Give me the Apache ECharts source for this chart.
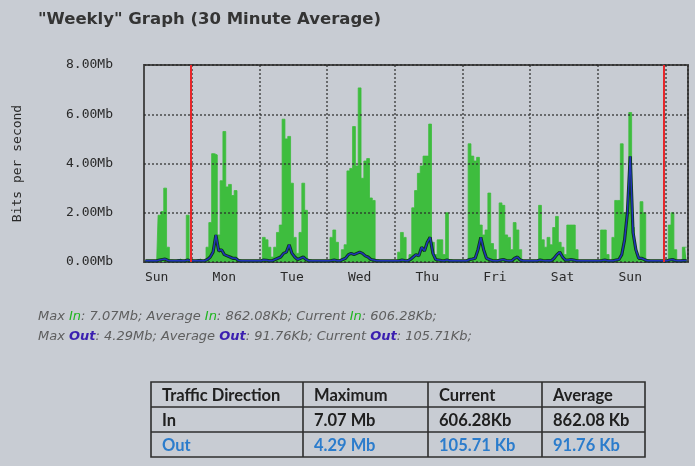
<!DOCTYPE html>
<html>
<head>
<meta charset="utf-8">
<script src="https://cdn.jsdelivr.net/npm/echarts@6/dist/echarts.min.js"></script>
<style>
html,body{margin:0;padding:0;background:#c8ccd3;}
#chart{width:695px;height:466px;}
</style>
</head>
<body>
<div id="chart"></div>
<script>
// ---- data (hourly slots, Mbit/s) ----
const dayLabels = ['Sun','Mon','Tue','Wed','Thu','Fri','Sat','Sun'];
const yTicks = [0, 2, 4, 6, 8];

// In traffic (green), slots 0..192, oldest on the left
const inTraffic = [
  // Sun (partial, 0-16)
  0.05,0.05,0.04,0.05,0.06,1.9,2.05,3.0,0.6,0.08,0.05,0.05,0.12,0.05,0.06,1.9,0.1,
  // Mon (17-40)
  0.05,0.06,0.12,0.05,0.08,0.6,1.6,4.4,4.35,1.1,3.3,5.3,3.05,3.15,2.7,2.9,0.1,0.05,0.06,0.05,0.04,0.05,0.05,0.06,
  // Tue (41-64)
  0.05,1.0,0.9,0.6,0.2,0.6,1.2,1.5,5.8,5.0,5.1,3.2,1.0,0.35,1.2,3.2,2.1,0.1,0.05,0.05,0.06,0.05,0.04,0.05,
  // Wed (65-88)
  0.05,1.0,1.3,0.8,0.06,0.5,0.7,3.7,3.8,5.5,3.9,7.07,3.4,4.1,4.2,2.6,2.5,0.1,0.05,0.05,0.04,0.05,0.05,0.06,
  // Thu (89-112)
  0.05,0.4,1.2,1.0,0.1,0.3,2.2,2.9,3.6,3.9,4.3,4.3,5.6,0.8,0.3,0.9,0.9,0.3,2.0,0.1,0.05,0.05,0.04,0.05,
  // Fri (113-136)
  0.05,0.06,4.8,4.3,4.1,4.25,1.5,1.1,1.3,2.8,0.75,0.5,0.1,2.4,2.3,1.1,1.0,0.5,1.6,1.3,0.5,0.05,0.05,0.06,
  // Sat (137-160)
  0.05,0.05,0.1,2.3,0.9,0.6,1.0,0.7,1.4,1.85,0.8,0.6,0.3,1.5,1.5,1.5,0.5,0.05,0.05,0.04,0.05,0.06,0.05,0.05,
  // Sun (161-184)
  0.05,1.3,1.3,0.3,0.05,1.0,2.5,2.5,4.8,2.0,2.0,6.07,1.4,0.4,0.1,2.45,2.0,0.1,0.05,0.05,0.04,0.05,0.05,0.06,
  // Mon (partial, 185-192)
  0.05,1.5,2.0,0.5,0.05,0.1,0.6,0.6
];

// Out traffic (blue)
const outTraffic = [
  0.05,0.05,0.05,0.05,0.05,0.08,0.1,0.12,0.06,0.05,0.05,0.05,0.06,0.05,0.05,0.08,0.05,
  0.05,0.05,0.06,0.05,0.05,0.1,0.2,0.4,1.1,0.45,0.5,0.3,0.25,0.2,0.15,0.15,0.06,0.05,0.05,0.05,0.05,0.05,0.05,0.05,
  0.05,0.08,0.07,0.05,0.05,0.1,0.15,0.2,0.35,0.4,0.7,0.35,0.2,0.1,0.15,0.2,0.1,0.05,0.05,0.05,0.05,0.05,0.05,0.05,
  0.05,0.06,0.08,0.05,0.05,0.1,0.15,0.3,0.35,0.3,0.35,0.4,0.35,0.25,0.2,0.1,0.08,0.05,0.05,0.05,0.05,0.05,0.05,0.05,
  0.05,0.05,0.08,0.06,0.05,0.1,0.2,0.3,0.25,0.6,0.45,0.8,1.0,0.35,0.1,0.08,0.06,0.05,0.08,0.05,0.05,0.05,0.05,0.05,
  0.05,0.05,0.1,0.12,0.15,0.5,1.0,0.5,0.15,0.1,0.06,0.05,0.05,0.08,0.1,0.06,0.05,0.05,0.15,0.2,0.08,0.05,0.05,0.05,
  0.05,0.05,0.05,0.08,0.06,0.05,0.06,0.05,0.15,0.3,0.4,0.2,0.08,0.08,0.1,0.08,0.05,0.05,0.05,0.05,0.05,0.05,0.05,0.05,
  0.05,0.06,0.08,0.05,0.05,0.05,0.08,0.1,0.3,0.9,2.0,4.29,1.2,0.5,0.15,0.15,0.1,0.05,0.05,0.05,0.05,0.05,0.05,0.05,
  0.05,0.08,0.1,0.06,0.05,0.05,0.06,0.06
];

// week-start markers (slot indexes)
const weekStartSlots = [16, 184];

// summary figures
const inStats = ['7.07Mb', '862.08Kb', '606.28Kb'];   // max, average, current
const outStats = ['4.29Mb', '91.76Kb', '105.71Kb'];

// table
const tableHeader = ['Traffic Direction', 'Maximum', 'Current', 'Average'];
const tableIn = ['In', '7.07 Mb', '606.28Kb', '862.08 Kb'];
const tableOut = ['Out', '4.29 Mb', '105.71 Kb', '91.76 Kb'];

// ---- build chart ----
const slots = inTraffic.map((_, i) => String(i));

const colX = [151, 303, 428, 542, 645];
const rowY = [382, 407, 432, 457];
const graphics = [];

graphics.push({
  type: 'text', left: 38, top: 310,
  style: {
    text: 'Max {g|In}: ' + inStats[0] + '; Average {g|In}: ' + inStats[1] + '; Current {g|In}: ' + inStats[2] + ';',
    fontFamily: 'DejaVu Sans', fontStyle: 'italic', fontSize: 13, fill: '#5e5e5e',
    rich: { g: { fill: '#1fb51f', fontFamily: 'DejaVu Sans', fontStyle: 'italic', fontSize: 13 } }
  }
});
graphics.push({
  type: 'text', left: 38, top: 330,
  style: {
    text: 'Max {b|Out}: ' + outStats[0] + '; Average {b|Out}: ' + outStats[1] + '; Current {b|Out}: ' + outStats[2] + ';',
    fontFamily: 'DejaVu Sans', fontStyle: 'italic', fontSize: 13, fill: '#5e5e5e',
    rich: { b: { fill: '#3a1fb0', fontFamily: 'DejaVu Sans', fontStyle: 'italic', fontWeight: 'bold', fontSize: 13 } }
  }
});

const border = { stroke: '#2e2e2e', lineWidth: 1.6 };
graphics.push({ type: 'rect', shape: { x: colX[0], y: rowY[0], width: colX[4] - colX[0], height: rowY[3] - rowY[0] }, style: Object.assign({ fill: 'none' }, border) });
for (let i = 1; i < colX.length - 1; i++) {
  graphics.push({ type: 'line', shape: { x1: colX[i], y1: rowY[0], x2: colX[i], y2: rowY[3] }, style: border });
}
for (let j = 1; j < rowY.length - 1; j++) {
  graphics.push({ type: 'line', shape: { x1: colX[0], y1: rowY[j], x2: colX[4], y2: rowY[j] }, style: border });
}
[tableHeader, tableIn, tableOut].forEach((row, r) => {
  row.forEach((cell, c) => {
    graphics.push({
      type: 'text',
      x: colX[c] + 11, y: (rowY[r] + rowY[r + 1]) / 2 + 1,
      style: {
        text: cell, fontFamily: 'Lato', fontSize: 16.5, fontWeight: 'bold',
        fill: r === 2 ? '#2b7ccc' : '#202020',
        verticalAlign: 'middle', align: 'left'
      }
    });
  });
});

const chart = echarts.init(document.getElementById('chart'), null, { renderer: 'canvas' });
chart.setOption({
  backgroundColor: '#c8ccd3',
  animation: false,
  title: {
    text: '"Weekly" Graph (30 Minute Average)',
    left: 33, top: 6,
    textStyle: { fontFamily: 'DejaVu Sans', fontWeight: 'bold', fontSize: 16.5, color: '#343434' }
  },
  grid: {
    left: 144, right: 7, top: 65, bottom: 204,
    show: true, borderColor: '#4a4a4a', borderWidth: 2, backgroundColor: 'transparent'
  },
  xAxis: {
    type: 'category',
    z: 2,
    data: slots,
    boundaryGap: true,
    axisLine: { show: false },
    axisTick: { show: false },
    splitLine: {
      show: true,
      interval: (i) => i % 24 === 17,
      lineStyle: { color: 'rgba(40,40,40,0.8)', type: [2, 2], width: 1.5 }
    },
    axisLabel: {
      interval: (i) => i % 24 === 4,
      formatter: (v) => dayLabels[Math.floor(Number(v) / 24)],
      fontFamily: 'DejaVu Sans Mono', fontSize: 13, color: '#2a2a2a', margin: 9
    }
  },
  yAxis: {
    type: 'value',
    z: 2,
    min: yTicks[0], max: yTicks[yTicks.length - 1], interval: 2,
    name: 'Bits per second',
    nameLocation: 'middle', nameRotate: 90, nameGap: 120,
    nameTextStyle: { fontFamily: 'DejaVu Sans Mono', fontSize: 13, color: '#2a2a2a' },
    axisLine: { show: false },
    axisTick: { show: false },
    axisLabel: {
      formatter: (v) => v.toFixed(2) + 'Mb',
      fontFamily: 'DejaVu Sans Mono', fontSize: 13, color: '#2a2a2a', margin: 31
    },
    splitLine: { show: true, lineStyle: { color: 'rgba(40,40,40,0.8)', type: [2, 2], width: 1.5 } }
  },
  series: [
    {
      name: 'In', type: 'line', data: inTraffic, step: 'middle',
      symbol: 'none',
      lineStyle: { color: '#3ebd3e', width: 0.8 },
      areaStyle: { color: '#3ebd3e', opacity: 1 },
      z: 1,
      markLine: {
        silent: true, symbol: 'none', label: { show: false },
        lineStyle: { color: '#e8262a', width: 2, type: 'solid' },
        data: weekStartSlots.map(s => ({ xAxis: s }))
      }
    },
    {
      name: 'OutEdge', type: 'line', data: outTraffic, symbol: 'none', silent: true,
      lineStyle: { color: '#0c3a14', width: 3.2 }, z: 3
    },
    {
      name: 'Out', type: 'line', data: outTraffic, symbol: 'none',
      lineStyle: { color: '#2233bb', width: 1.5 }, z: 4
    }
  ],
  graphic: graphics
});
</script>
</body>
</html>
